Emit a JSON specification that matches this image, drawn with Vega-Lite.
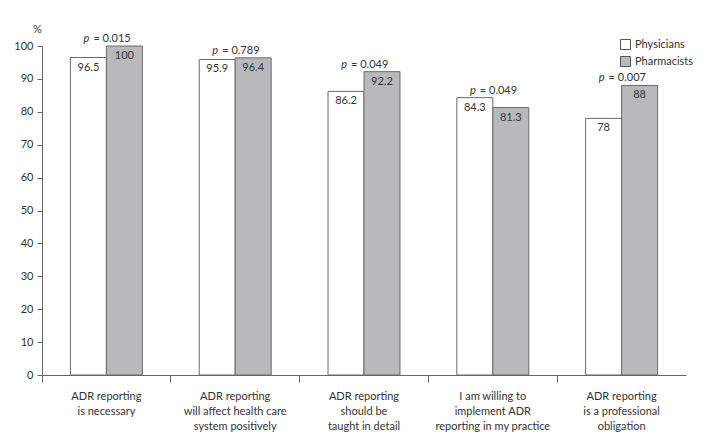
{
  "$schema": "https://vega.github.io/schema/vega-lite/v6.json",
  "width": 644,
  "height": 329,
  "autosize": {"type": "none"},
  "padding": {"left": 42, "top": 46, "right": 23, "bottom": 62},
  "background": "white",
  "data": {
    "values": [
      {"item": "ADR reporting|is necessary", "group": "Physicians", "value": 96.5, "pl": "= 0.015"},
      {"item": "ADR reporting|is necessary", "group": "Pharmacists", "value": 100, "pl": "= 0.015"},
      {"item": "ADR reporting|will affect health care|system positively", "group": "Physicians", "value": 95.9, "pl": "= 0.789"},
      {"item": "ADR reporting|will affect health care|system positively", "group": "Pharmacists", "value": 96.4, "pl": "= 0.789"},
      {"item": "ADR reporting|should be|taught in detail", "group": "Physicians", "value": 86.2, "pl": "= 0.049"},
      {"item": "ADR reporting|should be|taught in detail", "group": "Pharmacists", "value": 92.2, "pl": "= 0.049"},
      {"item": "I am willing to|implement ADR|reporting in my practice", "group": "Physicians", "value": 84.3, "pl": "= 0.049"},
      {"item": "I am willing to|implement ADR|reporting in my practice", "group": "Pharmacists", "value": 81.3, "pl": "= 0.049"},
      {"item": "ADR reporting|is a professional|obligation", "group": "Physicians", "value": 78, "pl": "= 0.007"},
      {"item": "ADR reporting|is a professional|obligation", "group": "Pharmacists", "value": 88, "pl": "= 0.007"}
    ]
  },
  "encoding": {
    "x": {
      "field": "item", "type": "nominal", "sort": null,
      "scale": {"paddingInner": 0, "paddingOuter": 0},
      "axis": {
        "title": null, "labelAngle": 0, "bandPosition": 0,
        "labelExpr": "split(datum.label, '|')",
        "labelLineHeight": 15, "labelPadding": 8, "labelBaseline": "top",
        "tickSize": 7, "domainColor": "#666", "tickColor": "#666"
      }
    },
    "y": {
      "field": "value", "type": "quantitative",
      "scale": {"domain": [0, 100], "nice": false},
      "axis": {
        "title": "%", "titleAngle": 0, "titleX": -5, "titleY": -17,
        "titleAlign": "center", "titleBaseline": "middle",
        "titleFontWeight": "normal", "titleFontSize": 11, "titleColor": "#333",
        "values": [0,10,20,30,40,50,60,70,80,90,100],
        "grid": false, "tickSize": 5, "labelPadding": 4,
        "domainColor": "#666", "tickColor": "#666"
      }
    }
  },
  "layer": [
    {
      "mark": {"type": "bar", "stroke": "#6a6a6a", "strokeWidth": 1},
      "encoding": {
        "xOffset": {"field": "group", "type": "nominal", "sort": ["Physicians", "Pharmacists"],
          "scale": {"paddingInner": 0, "paddingOuter": 0.79}},
        "fill": {
          "field": "group", "type": "nominal", "sort": ["Physicians", "Pharmacists"],
          "scale": {"domain": ["Physicians", "Pharmacists"], "range": ["#ffffff", "#b9b9bc"]},
          "legend": {
            "title": null, "orient": "none", "legendX": 578, "legendY": -7,
            "symbolType": "square", "symbolSize": 100, "symbolStrokeColor": "#555",
            "symbolStrokeWidth": 1, "labelFontSize": 11, "labelColor": "#333",
            "labelOffset": 4, "rowPadding": 2, "padding": 0
          }
        }
      }
    },
    {
      "mark": {"type": "text", "baseline": "middle", "dy": 10, "fontSize": 11, "color": "#333"},
      "encoding": {
        "xOffset": {"field": "group", "type": "nominal", "sort": ["Physicians", "Pharmacists"],
          "scale": {"paddingInner": 0, "paddingOuter": 0.79}},
        "text": {"field": "value", "type": "quantitative"}
      }
    },
    {
      "transform": [{"aggregate": [{"op": "max", "field": "value", "as": "top"}], "groupby": ["item", "pl"]}],
      "layer": [
        {
          "mark": {"type": "text", "baseline": "alphabetic", "align": "right", "dx": -17, "dy": -4, "fontSize": 11, "fontStyle": "italic", "color": "#333"},
          "encoding": {"y": {"field": "top", "type": "quantitative"}, "text": {"value": "p"}}
        },
        {
          "mark": {"type": "text", "baseline": "alphabetic", "align": "left", "dx": -13, "dy": -4, "fontSize": 11, "color": "#333"},
          "encoding": {"y": {"field": "top", "type": "quantitative"}, "text": {"field": "pl"}}
        }
      ]
    }
  ],
  "config": {
    "font": "Lato",
    "view": {"stroke": null},
    "axis": {"labelFontSize": 11, "labelColor": "#333", "labelFont": "Lato"},
    "text": {"font": "Lato"},
    "legend": {"labelFont": "Lato"}
  }
}
